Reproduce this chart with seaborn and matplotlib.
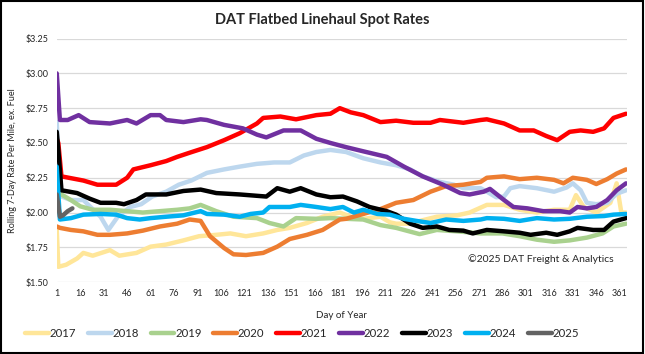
import seaborn as sns
import matplotlib.pyplot as plt
from matplotlib.patches import Rectangle
from matplotlib.ticker import FuncFormatter

sns.set_theme(style="white")
plt.rcParams['font.family'] = ['Lato', 'DejaVu Sans']

# day of year / rolling 7-day rate per year
d2017 = [1, 2, 7, 14, 18, 24, 35, 41, 52, 61, 71, 82, 92, 103, 112, 122, 133, 142, 150, 161,
         171, 182, 189, 197, 208, 214, 218, 227, 235, 244, 257, 265, 276, 287, 297, 308, 319, 329, 333, 338,
         346, 355, 359, 362, 365]
r2017 = [1.88, 1.61, 1.625, 1.67, 1.71, 1.69, 1.73, 1.69, 1.71, 1.755, 1.77, 1.80, 1.83, 1.84, 1.85, 1.83, 1.85, 1.875, 1.89, 1.925,
         1.97, 2.00, 1.97, 1.955, 1.97, 1.93, 1.92, 1.92, 1.945, 1.97, 1.98, 2.00, 2.055, 2.055, 2.02, 2.00, 2.02, 2.02, 2.125, 2.04,
         2.00, 2.07, 2.21, 2.00, 2.00]

d2018 = [1, 3, 10, 18, 29, 34, 40, 48, 55, 62, 71, 79, 87, 97, 108, 118, 129, 140, 150, 159,
         167, 176, 186, 197, 208, 218, 227, 235, 246, 255, 261, 272, 276, 282, 287, 291, 297, 308, 319, 327,
         331, 336, 340, 346, 353, 359, 365]
r2018 = [2.65, 2.12, 2.09, 2.09, 1.97, 1.875, 1.97, 2.04, 2.06, 2.115, 2.15, 2.20, 2.23, 2.285, 2.31, 2.33, 2.35, 2.36, 2.36, 2.41,
         2.435, 2.45, 2.435, 2.39, 2.36, 2.34, 2.31, 2.26, 2.22, 2.20, 2.175, 2.175, 2.15, 2.11, 2.115, 2.175, 2.19, 2.175, 2.15, 2.18,
         2.21, 2.16, 2.07, 2.06, 2.07, 2.135, 2.16]

d2019 = [1, 4, 10, 16, 24, 35, 46, 56, 67, 78, 86, 93, 103, 114, 129, 137, 146, 154, 167, 176,
         186, 197, 208, 218, 233, 244, 257, 272, 286, 297, 308, 319, 329, 340, 350, 357, 365]
r2019 = [2.14, 2.13, 2.09, 2.045, 2.02, 2.02, 2.01, 2.00, 2.01, 2.02, 2.03, 2.055, 2.01, 1.97, 1.96, 1.925, 1.90, 1.96, 1.955, 1.96,
         1.955, 1.95, 1.91, 1.89, 1.845, 1.875, 1.865, 1.85, 1.85, 1.83, 1.805, 1.79, 1.80, 1.82, 1.85, 1.90, 1.92]

d2020 = [1, 3, 10, 18, 27, 35, 46, 56, 67, 78, 86, 93, 99, 108, 114, 122, 133, 142, 150, 161,
         171, 182, 186, 197, 208, 218, 229, 240, 250, 261, 272, 276, 287, 297, 308, 319, 325, 331, 340, 346,
         353, 359, 365]
r2020 = [1.90, 1.89, 1.875, 1.865, 1.84, 1.84, 1.85, 1.87, 1.90, 1.92, 1.95, 1.94, 1.83, 1.745, 1.70, 1.695, 1.71, 1.755, 1.81, 1.84,
         1.875, 1.95, 1.955, 1.99, 2.025, 2.07, 2.09, 2.15, 2.19, 2.20, 2.22, 2.25, 2.26, 2.24, 2.25, 2.235, 2.21, 2.25, 2.235, 2.205,
         2.24, 2.28, 2.31]

d2021 = [1, 2, 4, 18, 27, 39, 46, 50, 61, 71, 78, 86, 97, 108, 118, 129, 133, 144, 154, 167,
         176, 182, 189, 197, 208, 218, 229, 240, 246, 261, 272, 276, 287, 297, 306, 314, 321, 329, 336, 344,
         351, 357, 365]
r2021 = [2.53, 2.50, 2.26, 2.23, 2.20, 2.20, 2.25, 2.31, 2.34, 2.37, 2.40, 2.43, 2.47, 2.52, 2.57, 2.64, 2.68, 2.69, 2.67, 2.70,
         2.71, 2.75, 2.72, 2.70, 2.65, 2.66, 2.645, 2.645, 2.665, 2.645, 2.665, 2.67, 2.64, 2.59, 2.59, 2.55, 2.52, 2.58, 2.59, 2.58,
         2.605, 2.68, 2.71]

d2022 = [1, 3, 8, 15, 22, 35, 46, 52, 61, 67, 71, 82, 93, 97, 108, 120, 129, 135, 146, 157,
         167, 176, 186, 197, 212, 223, 235, 248, 259, 265, 274, 278, 287, 293, 302, 312, 323, 329, 334, 340,
         346, 353, 359, 365]
r2022 = [3.00, 2.665, 2.665, 2.70, 2.65, 2.64, 2.665, 2.64, 2.70, 2.70, 2.665, 2.65, 2.67, 2.665, 2.63, 2.605, 2.56, 2.54, 2.59, 2.59,
         2.53, 2.50, 2.47, 2.44, 2.40, 2.33, 2.26, 2.20, 2.14, 2.13, 2.15, 2.17, 2.09, 2.04, 2.03, 2.01, 2.01, 2.00, 2.04, 2.03,
         2.04, 2.09, 2.16, 2.21]

d2023 = [1, 2, 4, 14, 22, 29, 39, 44, 52, 58, 71, 82, 93, 103, 118, 135, 142, 150, 157, 167,
         176, 184, 193, 201, 212, 218, 227, 235, 244, 252, 261, 267, 276, 287, 297, 304, 314, 321, 329, 334,
         344, 351, 357, 365]
r2023 = [2.58, 2.45, 2.16, 2.14, 2.10, 2.07, 2.07, 2.06, 2.09, 2.13, 2.13, 2.155, 2.165, 2.14, 2.13, 2.115, 2.175, 2.15, 2.175, 2.13,
         2.11, 2.115, 2.08, 2.04, 2.01, 1.985, 1.92, 1.89, 1.90, 1.875, 1.87, 1.85, 1.875, 1.865, 1.855, 1.84, 1.855, 1.84, 1.865, 1.89,
         1.875, 1.875, 1.935, 1.96]

d2024 = [1, 3, 10, 18, 29, 39, 46, 54, 61, 71, 82, 93, 97, 108, 118, 125, 133, 137, 150, 157,
         167, 176, 184, 191, 197, 206, 214, 223, 231, 240, 250, 261, 272, 276, 287, 297, 308, 319, 329, 340,
         351, 357, 365]
r2024 = [2.33, 1.95, 1.96, 1.985, 1.99, 1.985, 1.96, 1.95, 1.96, 1.97, 1.98, 2.01, 1.99, 1.985, 1.97, 1.99, 2.00, 2.04, 2.04, 2.055,
         2.04, 2.025, 2.04, 2.00, 2.02, 1.99, 1.985, 1.955, 1.94, 1.925, 1.95, 1.94, 1.95, 1.96, 1.955, 1.94, 1.96, 1.95, 1.955, 1.97,
         1.975, 1.985, 1.99]

d2025 = [1, 3, 5, 8, 11]
r2025 = [2.13, 1.97, 1.98, 2.01, 2.03]

years = ['2017', '2018', '2019', '2020', '2021', '2022', '2023', '2024', '2025']
days = [d2017, d2018, d2019, d2020, d2021, d2022, d2023, d2024, d2025]
rates = [r2017, r2018, r2019, r2020, r2021, r2022, r2023, r2024, r2025]
colors = ['#FFE699', '#BDD7EE', '#A9D18E', '#ED7D31', '#FF0000', '#7030A0', '#000000', '#00B0F0', '#636363']

fig = plt.figure(figsize=(6.45, 3.54), dpi=100)
ax = fig.add_axes([0.088, 0.203, 0.884, 0.688])

for yr, d, r, c in zip(years, days, rates, colors):
    sns.lineplot(x=d, y=r, ax=ax, color=c, linewidth=3.2, label=yr, legend=False)

ax.set_xlim(1, 365.6)
ax.set_ylim(1.5, 3.25)
ax.set_xticks(list(range(1, 362, 15)))
ax.set_yticks([1.5, 1.75, 2.0, 2.25, 2.5, 2.75, 3.0, 3.25])
ax.yaxis.set_major_formatter(FuncFormatter(lambda v, p: f'${v:.2f}'))
ax.tick_params(axis='both', labelsize=6.5, length=0, pad=6)
ax.tick_params(axis='x', pad=5)
ax.grid(axis='y', color='#D9D9D9', linewidth=0.9)
ax.grid(axis='x', visible=False)
for s in ax.spines.values():
    s.set_visible(False)

ax.set_xlabel('Day of Year', fontsize=7, labelpad=9)
ax.set_ylabel('Rolling 7-Day Rate Per Mile, ex. Fuel', fontsize=6.5, labelpad=6)
fig.text(0.5, 0.943, 'DAT Flatbed Linehaul Spot Rates', ha='center', va='center',
         fontsize=10.5, fontweight='bold')
ax.text(0.977, 0.094, '\u00a92025 DAT Freight & Analytics', transform=ax.transAxes,
        ha='right', va='center', fontsize=7.5)

handles, labels = ax.get_legend_handles_labels()
fig.legend(handles, labels, loc='center', bbox_to_anchor=(0.468, 0.057), ncol=9,
           frameon=False, fontsize=8.2, handlelength=2.1, handletextpad=0.05,
           columnspacing=1.05)

fig.add_artist(Rectangle((0.002, 0.003), 0.995, 0.994, transform=fig.transFigure,
                         fill=False, edgecolor='black', linewidth=1.5))

fig.savefig('out.png', dpi=100)
